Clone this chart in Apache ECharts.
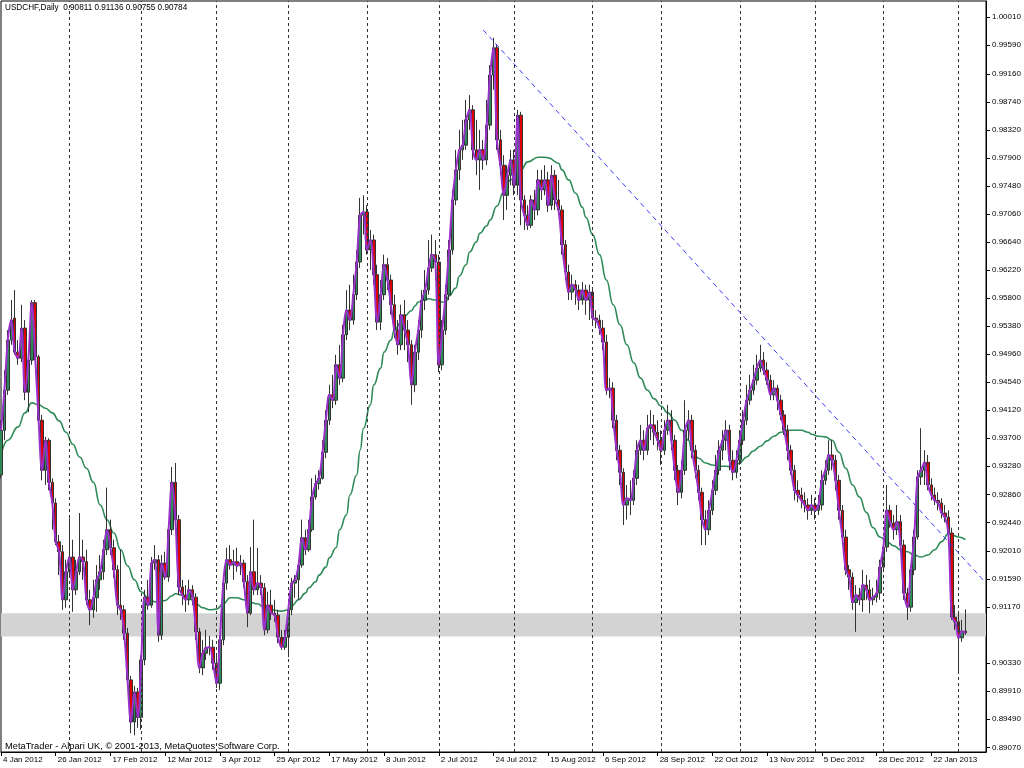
<!DOCTYPE html>
<html><head><meta charset="utf-8">
<script src="https://cdn.jsdelivr.net/npm/echarts@6/dist/echarts.min.js"></script>
<style>html,body{margin:0;padding:0;background:#fff}#c{width:1024px;height:768px}</style>
</head><body><div id="c"></div>
<script>
// Daily bars as [open, high, low, close]
const jan2012 = [[.9315,.9397,.9310,.9382],[.9382,.9472,.9367,.9442],[.9442,.9532,.9435,.9517],[.9517,.9577,.9510,.9547],[.9550,.9592,.9495,.9499],[.9499,.9517,.9480,.9490],[.9490,.9570,.9484,.9535],[.9535,.9547,.9427,.9439],[.9439,.9502,.9409,.9487],[.9487,.9577,.9480,.9573],[.9573,.9577,.9487,.9492],[.9492,.9495,.9390,.9397],[.9397,.9405,.9307,.9322],[.9322,.9372,.9300,.9367],[.9367,.9370,.9292,.9304],[.9304,.9310,.9233,.9273],[.9273,.9280,.9210,.9215],[.9215,.9225,.9165,.9200],[.9200,.9210,.9113,.9128],[.9128,.9188,.9116,.9170]];
const feb2012 = [[.9170,.9250,.9165,.9192],[.9192,.9218,.9110,.9143],[.9143,.9188,.9135,.9170],[.9170,.9258,.9165,.9192],[.9192,.9218,.9158,.9185],[.9185,.9203,.9120,.9128],[.9128,.9143,.9090,.9113],[.9113,.9158,.9101,.9131],[.9131,.9180,.9110,.9158],[.9158,.9195,.9143,.9170],[.9170,.9218,.9158,.9203],[.9203,.9296,.9195,.9233],[.9233,.9248,.9195,.9206],[.9206,.9218,.9161,.9173],[.9173,.9180,.9105,.9120],[.9120,.9203,.9098,.9113],[.9113,.9120,.9068,.9078],[.9078,.9086,.9000,.9008],[.9008,.9014,.8928,.8945],[.8945,.8999,.8925,.8990],[.8990,.8996,.8936,.8952]];
const mar2012 = [[.8952,.9045,.8933,.9038],[.9038,.9143,.9030,.9132],[.9132,.9158,.9113,.9120],[.9120,.9192,.9116,.9183],[.9183,.9210,.9173,.9188],[.9188,.9195,.9065,.9075],[.9075,.9195,.9068,.9183],[.9183,.9200,.9158,.9162],[.9162,.9240,.9155,.9233],[.9233,.9327,.9225,.9304],[.9304,.9333,.9240,.9248],[.9248,.9255,.9135,.9147],[.9147,.9158,.9120,.9135],[.9135,.9150,.9110,.9128],[.9128,.9158,.9120,.9143],[.9143,.9150,.9120,.9132],[.9132,.9138,.9068,.9080],[.9080,.9086,.9018,.9026],[.9026,.9068,.9015,.9048],[.9048,.9083,.9038,.9056],[.9056,.9074,.9045,.9057],[.9057,.9068,.9023,.9033]];
const apr2012 = [[.9033,.9045,.8996,.9003],[.9003,.9075,.8993,.9068],[.9068,.9161,.9060,.9153],[.9153,.9206,.9143,.9188],[.9188,.9210,.9173,.9180],[.9180,.9203,.9158,.9185],[.9185,.9206,.9170,.9179],[.9179,.9195,.9165,.9183],[.9183,.9188,.9146,.9155],[.9155,.9165,.9087,.9108],[.9108,.9207,.9105,.9170],[.9170,.9248,.9135,.9143],[.9143,.9206,.9135,.9153],[.9153,.9165,.9135,.9146],[.9146,.9153,.9075,.9083],[.9083,.9140,.9078,.9120],[.9120,.9143,.9098,.9108],[.9108,.9128,.9095,.9105],[.9105,.9113,.9063,.9072],[.9072,.9083,.9053,.9057],[.9057,.9083,.9053,.9072]];
const may2012 = [[.9072,.9120,.9042,.9113],[.9113,.9161,.9105,.9153],[.9153,.9165,.9131,.9158],[.9158,.9188,.9128,.9180],[.9180,.9248,.9176,.9221],[.9221,.9233,.9195,.9203],[.9203,.9248,.9200,.9233],[.9233,.9310,.9230,.9282],[.9282,.9315,.9278,.9302],[.9302,.9322,.9293,.9310],[.9310,.9367,.9308,.9349],[.9349,.9412,.9340,.9397],[.9397,.9450,.9390,.9435],[.9435,.9465,.9415,.9427],[.9427,.9495,.9420,.9480],[.9480,.9510,.9450,.9460],[.9460,.9540,.9454,.9525],[.9525,.9592,.9517,.9562],[.9562,.9600,.9532,.9547],[.9547,.9615,.9540,.9585],[.9585,.9652,.9577,.9634],[.9634,.9730,.9625,.9704],[.9704,.9734,.9675,.9709]];
const jun2012 = [[.9709,.9719,.9645,.9652],[.9652,.9682,.9622,.9667],[.9667,.9675,.9600,.9615],[.9615,.9630,.9532,.9544],[.9544,.9607,.9532,.9585],[.9585,.9645,.9577,.9630],[.9630,.9640,.9592,.9607],[.9607,.9615,.9555,.9570],[.9570,.9585,.9520,.9532],[.9532,.9547,.9495,.9510],[.9510,.9570,.9502,.9555],[.9555,.9577,.9502,.9532],[.9532,.9547,.9484,.9510],[.9510,.9517,.9420,.9450],[.9450,.9510,.9439,.9499],[.9499,.9547,.9487,.9532],[.9532,.9592,.9520,.9577],[.9577,.9622,.9562,.9592],[.9592,.9667,.9585,.9625],[.9625,.9675,.9619,.9645],[.9645,.9667,.9607,.9634]];
const jul2012 = [[.9634,.9645,.9469,.9480],[.9480,.9547,.9472,.9532],[.9532,.9600,.9525,.9585],[.9585,.9667,.9577,.9652],[.9652,.9742,.9645,.9727],[.9727,.9802,.9719,.9772],[.9772,.9832,.9757,.9802],[.9802,.9847,.9787,.9809],[.9809,.9877,.9802,.9847],[.9847,.9884,.9832,.9862],[.9862,.9869,.9787,.9802],[.9802,.9847,.9764,.9787],[.9787,.9832,.9742,.9802],[.9802,.9817,.9772,.9787],[.9787,.9877,.9779,.9839],[.9839,.9929,.9832,.9914],[.9914,.9970,.9892,.9955],[.9955,.9959,.9802,.9817],[.9817,.9832,.9764,.9779],[.9779,.9794,.9697,.9734],[.9734,.9779,.9712,.9764],[.9764,.9802,.9749,.9787]];
const aug2012 = [[.9787,.9802,.9734,.9749],[.9749,.9862,.9734,.9854],[.9854,.9859,.9689,.9727],[.9727,.9734,.9682,.9704],[.9704,.9719,.9682,.9689],[.9689,.9734,.9685,.9727],[.9727,.9742,.9697,.9712],[.9712,.9772,.9704,.9757],[.9757,.9772,.9727,.9742],[.9742,.9779,.9734,.9757],[.9757,.9769,.9709,.9719],[.9719,.9779,.9712,.9764],[.9764,.9772,.9712,.9727],[.9727,.9757,.9704,.9712],[.9712,.9719,.9645,.9660],[.9660,.9667,.9607,.9619],[.9619,.9630,.9577,.9589],[.9589,.9615,.9577,.9600],[.9600,.9607,.9570,.9592],[.9592,.9600,.9562,.9577],[.9577,.9604,.9570,.9592],[.9592,.9600,.9555,.9577],[.9577,.9600,.9547,.9589]];
const sep2012 = [[.9589,.9595,.9540,.9550],[.9550,.9562,.9535,.9547],[.9547,.9555,.9525,.9535],[.9535,.9547,.9502,.9514],[.9514,.9525,.9435,.9442],[.9442,.9460,.9430,.9445],[.9445,.9454,.9385,.9397],[.9397,.9405,.9337,.9352],[.9352,.9360,.9300,.9319],[.9319,.9325,.9240,.9270],[.9270,.9300,.9248,.9280],[.9280,.9307,.9255,.9277],[.9277,.9322,.9270,.9310],[.9310,.9367,.9300,.9352],[.9352,.9390,.9345,.9367],[.9367,.9382,.9337,.9352],[.9352,.9405,.9345,.9385],[.9385,.9412,.9367,.9390],[.9390,.9405,.9360,.9379],[.9379,.9397,.9352,.9367]];
const oct2012 = [[.9367,.9382,.9330,.9352],[.9352,.9397,.9345,.9382],[.9382,.9420,.9375,.9397],[.9397,.9412,.9352,.9367],[.9367,.9375,.9307,.9322],[.9322,.9330,.9270,.9289],[.9289,.9337,.9280,.9322],[.9322,.9427,.9315,.9382],[.9382,.9412,.9367,.9397],[.9397,.9405,.9340,.9352],[.9352,.9360,.9310,.9322],[.9322,.9330,.9277,.9289],[.9289,.9296,.9210,.9248],[.9248,.9262,.9210,.9233],[.9233,.9277,.9225,.9262],[.9262,.9307,.9255,.9292],[.9292,.9345,.9285,.9322],[.9322,.9367,.9315,.9352],[.9352,.9382,.9337,.9367],[.9367,.9397,.9352,.9382],[.9382,.9390,.9322,.9337],[.9337,.9352,.9307,.9319],[.9319,.9352,.9310,.9337]];
const nov2012 = [[.9337,.9382,.9330,.9367],[.9367,.9412,.9360,.9397],[.9397,.9450,.9390,.9427],[.9427,.9465,.9420,.9442],[.9442,.9480,.9435,.9457],[.9457,.9495,.9450,.9475],[.9475,.9510,.9469,.9487],[.9487,.9499,.9465,.9472],[.9472,.9484,.9450,.9457],[.9457,.9465,.9427,.9435],[.9435,.9457,.9427,.9445],[.9445,.9450,.9412,.9427],[.9427,.9435,.9397,.9405],[.9405,.9412,.9375,.9382],[.9382,.9390,.9337,.9352],[.9352,.9360,.9315,.9322],[.9322,.9330,.9277,.9292],[.9292,.9307,.9274,.9285],[.9285,.9296,.9265,.9277],[.9277,.9289,.9259,.9270],[.9270,.9280,.9248,.9262],[.9262,.9285,.9255,.9270]];
const dec2012 = [[.9270,.9280,.9248,.9262],[.9262,.9285,.9255,.9270],[.9270,.9322,.9262,.9307],[.9307,.9337,.9300,.9322],[.9322,.9367,.9315,.9345],[.9345,.9367,.9322,.9337],[.9337,.9345,.9292,.9307],[.9307,.9315,.9248,.9262],[.9262,.9270,.9210,.9222],[.9222,.9233,.9165,.9173],[.9173,.9180,.9143,.9162],[.9162,.9169,.9113,.9124],[.9124,.9150,.9080,.9135],[.9135,.9146,.9120,.9128],[.9128,.9173,.9110,.9150],[.9150,.9165,.9128,.9143],[.9143,.9158,.9108,.9128],[.9128,.9146,.9120,.9132],[.9132,.9158,.9124,.9138],[.9138,.9188,.9128,.9177]];
const jan2013 = [[.9177,.9218,.9170,.9207],[.9207,.9300,.9200,.9262],[.9262,.9270,.9236,.9243],[.9243,.9255,.9218,.9233],[.9233,.9270,.9225,.9245],[.9245,.9255,.9203,.9210],[.9210,.9218,.9128,.9138],[.9138,.9146,.9098,.9117],[.9117,.9180,.9110,.9173],[.9173,.9233,.9165,.9222],[.9222,.9322,.9218,.9312],[.9312,.9385,.9300,.9322],[.9322,.9352,.9300,.9334],[.9334,.9345,.9292,.9300],[.9300,.9310,.9277,.9285],[.9285,.9296,.9270,.9277],[.9277,.9289,.9262,.9273],[.9273,.9280,.9250,.9258],[.9258,.9270,.9244,.9252],[.9252,.9262,.9218,.9228],[.9228,.9236,.9098,.9102],[.9102,.9120,.9083,.9095]];
const feb2013 = [[.9095,.9110,.9020,.9071],[.9071,.9098,.9065,.9081],[.90811,.91136,.90755,.90784]];

// Slow moving average (green), read at sampled bar indices
const maIdx = [0,2,5,7,9,11,13,15,17,19,21,23,25,27,29,31,33,35,37,39,41,43,44,46,48,50,51,53,55,57,59,61,63,65,67,69,71,73,75,77,79,82,84,85,87,89,90,92,93,95,96,98,99,101,102,104,105,106,108,109,111,112,114,115,117,118,120,121,122,124,125,127,128,130,131,133,134,136,137,139,140,142,143,145,147,149,152,154,157,159,160,163,164,166,168,170,171,173,175,177,179,181,183,185,187,189,191,193,195,197,199,201,202,204,206,208,210,212,214,216,218,220,222,224,226,228,230,232,234,236,237,239,241,243,245,247,249,251,253,255,257,259,261,263,265,267,269,271,273,275,277,278,280,282];
const maVal = [.9345,.9367,.9387,.9408,.9423,.9420,.9415,.9408,.9396,.9379,.9361,.9342,.9325,.9304,.9270,.9248,.9228,.9203,.9179,.9158,.9140,.9131,.9126,.9124,.9127,.9134,.9137,.9135,.9131,.9122,.9116,.9113,.9114,.9122,.9131,.9131,.9128,.9124,.9122,.9116,.9113,.9111,.9113,.9119,.9128,.9138,.9146,.9155,.9165,.9177,.9191,.9206,.9233,.9255,.9285,.9315,.9352,.9385,.9420,.9450,.9475,.9499,.9517,.9532,.9544,.9553,.9561,.9568,.9574,.9577,.9579,.9577,.9574,.9574,.9583,.9595,.9613,.9630,.9649,.9664,.9677,.9688,.9697,.9718,.9739,.9757,.9772,.9784,.9791,.9791,.9790,.9782,.9772,.9757,.9737,.9716,.9701,.9675,.9645,.9607,.9570,.9540,.9510,.9483,.9460,.9442,.9429,.9418,.9408,.9397,.9382,.9367,.9352,.9340,.9333,.9330,.9328,.9328,.9327,.9333,.9342,.9351,.9358,.9366,.9373,.9379,.9382,.9382,.9382,.9379,.9376,.9373,.9372,.9367,.9349,.9325,.9300,.9282,.9259,.9236,.9222,.9215,.9209,.9203,.9200,.9195,.9192,.9195,.9203,.9215,.9227,.9225,.9222,.9218];

const dateLabels = ['4 Jan 2012','26 Jan 2012','17 Feb 2012','12 Mar 2012','3 Apr 2012','25 Apr 2012','17 May 2012','8 Jun 2012','2 Jul 2012','24 Jul 2012','15 Aug 2012','6 Sep 2012','28 Sep 2012','22 Oct 2012','13 Nov 2012','5 Dec 2012','28 Dec 2012','22 Jan 2013'];
const priceTicks = [1.00010,0.99590,0.99160,0.98740,0.98320,0.97900,0.97480,0.97060,0.96640,0.96220,0.95800,0.95380,0.94960,0.94540,0.94120,0.93700,0.93280,0.92860,0.92440,0.92010,0.91590,0.91170,0.90330,0.89910,0.89490,0.89070];
const monthStarts = [20,41,63,84,107,128,150,173,193,216,238,258,280];
const zoneBand = [0.9108, 0.9073];
const trendLine = [[141, 0.99816], [288, 0.9153]];
const lastPrice = 0.90784;
const headerText = 'USDCHF,Daily  0.90811 0.91136 0.90755 0.90784';
const footerText = 'MetaTrader - Alpari UK, \u00a9 2001-2013, MetaQuotes Software Corp.';

const bars = [].concat(jan2012, feb2012, mar2012, apr2012, may2012, jun2012, jul2012, aug2012, sep2012, oct2012, nov2012, dec2012, jan2013, feb2013);
const candleData = bars.map(b => [b[0], b[3], b[2], b[1]]);
const closes = bars.map(b => b[3]);
const nCat = 289;
const cats = []; for (let i = 0; i < nCat; i++) cats.push(String(i));
const greenData = maIdx.map((x, k) => [x, maVal[k]]);
const FONT = "'Liberation Sans',Arial,sans-serif";
const isLabel = (i) => i % 16 === 0 && i <= 272;

const chart = echarts.init(document.getElementById('c'), null, {renderer: 'canvas'});
chart.setOption({
  animation: false,
  backgroundColor: '#fff',
  title: [
    {text: headerText, left: 5, top: 4, padding: 0, textStyle: {fontSize: 8.2, fontWeight: 'normal', color: '#000', fontFamily: FONT}},
    {text: footerText, left: 5, top: 742, padding: 0, textStyle: {fontSize: 9.3, fontWeight: 'normal', color: '#000', fontFamily: FONT}}
  ],
  grid: {left: 1, right: 38, top: 1, bottom: 16, outerBoundsMode: 'none', containLabel: false, show: true, borderColor: '#000', borderWidth: 1, backgroundColor: '#fff'},
  xAxis: {
    type: 'category', data: cats, boundaryGap: false,
    axisLine: {lineStyle: {color: '#000', width: 1}},
    axisTick: {show: true, length: 4, interval: isLabel, lineStyle: {color: '#000'}},
    axisLabel: {interval: isLabel, formatter: (v, i) => dateLabels[i / 16], align: 'left', padding: [0, 0, 0, 2], margin: 4, fontSize: 8, color: '#000', fontFamily: FONT},
    splitLine: {show: false}
  },
  yAxis: {
    type: 'value', position: 'right', min: 0.8900, max: 1.0025,
    axisLine: {show: true, lineStyle: {color: '#000', width: 1}},
    axisTick: {show: true, length: 4, customValues: priceTicks, lineStyle: {color: '#000'}},
    axisLabel: {customValues: priceTicks, formatter: v => v.toFixed(5), margin: 6, fontSize: 8, color: '#000', fontFamily: FONT},
    splitLine: {show: false}
  },
  series: [
    {type: 'line', data: [], z: 1, silent: true,
      markArea: {silent: true, itemStyle: {color: '#d3d3d3', opacity: 1}, data: [[{yAxis: zoneBand[0]}, {yAxis: zoneBand[1]}]]},
      markLine: {silent: true, symbol: 'none', label: {show: false}, animation: false,
        lineStyle: {color: '#333', type: [3, 3], width: 1},
        data: monthStarts.map(i => ({xAxis: i}))}
    },
    {type: 'line', name: 'MA slow', data: greenData, smooth: 0.5, smoothMonotone: 'x', symbol: 'none', z: 3, silent: true,
      lineStyle: {color: '#2e8b57', width: 1.6}},
    {type: 'candlestick', name: 'USDCHF', data: candleData, barWidth: 3, z: 4, silent: true,
      itemStyle: {color: '#2e8b57', color0: '#e00000', borderColor: '#333', borderColor0: '#333', borderWidth: 1},
      markLine: {silent: true, symbol: 'none', animation: false,
        lineStyle: {opacity: 0},
        label: {show: true, position: 'end', formatter: lastPrice.toFixed(5), color: '#fff', backgroundColor: '#000', padding: [2, 2, 1, 2], distance: 3, fontSize: 8, fontFamily: FONT},
        data: [{yAxis: lastPrice}]}
    },
    {type: 'line', name: 'MA fast', data: closes, smooth: 0.35, symbol: 'none', z: 5, silent: true,
      lineStyle: {color: '#9932cc', width: 2}},
    {type: 'line', data: [], z: 6, silent: true,
      markLine: {silent: true, symbol: 'none', label: {show: false}, animation: false,
        lineStyle: {color: '#3a3aff', type: [5, 4], width: 1},
        data: [[{coord: trendLine[0]}, {coord: trendLine[1]}]]}
    }
  ]
});
</script>
</body></html>
